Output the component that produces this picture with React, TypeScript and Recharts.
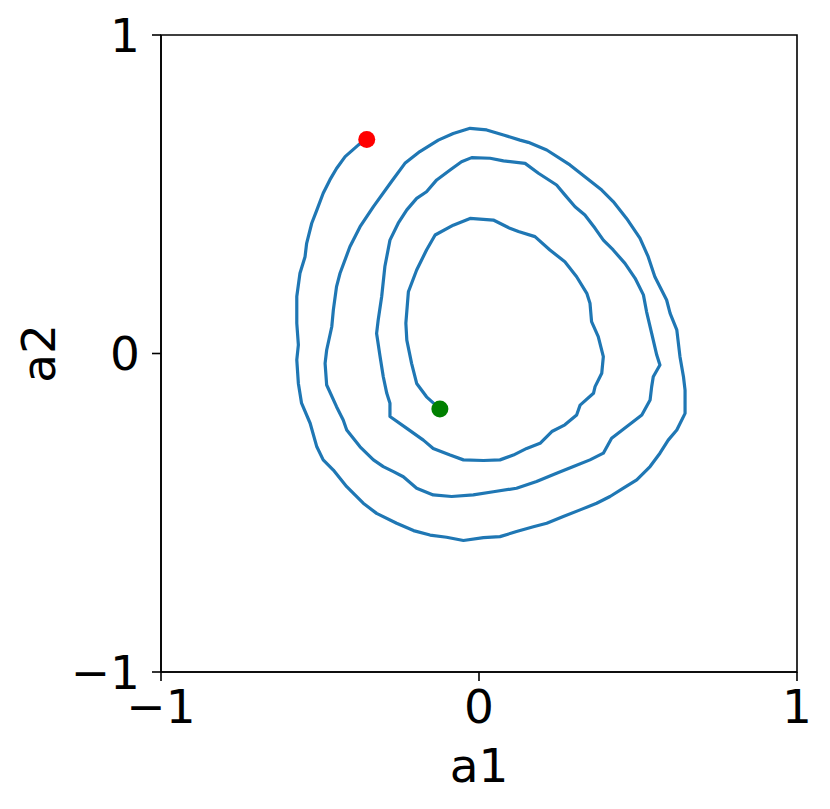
import { ComposedChart, Line, Scatter, XAxis, YAxis, ReferenceArea, Label } from 'recharts';

// trajectory in (a1, a2), from the green start point spiralling out to the red end point
const a1Values = [
  -0.123, -0.165, -0.196, -0.212, -0.227, -0.23, -0.222, -0.196, -0.165, -0.138,
  -0.081, -0.028, 0.045, 0.097, 0.124, 0.176, 0.223, 0.27, 0.307, 0.339,
  0.349, 0.354, 0.375, 0.391, 0.386, 0.365, 0.36, 0.318, 0.307, 0.27,
  0.229, 0.192, 0.15, 0.108, 0.066, 0.014, -0.049, -0.091, -0.144, -0.175,
  -0.227, -0.28, -0.28, -0.29, -0.301, -0.311, -0.322, -0.317, -0.306, -0.296,
  -0.28, -0.254, -0.227, -0.196, -0.165, -0.133, -0.091, -0.055, -0.023, 0.035,
  0.077, 0.145, 0.187, 0.244, 0.27, 0.302, 0.333, 0.365, 0.391, 0.422,
  0.459, 0.491, 0.517, 0.527, 0.543, 0.559, 0.569, 0.548, 0.543, 0.538,
  0.512, 0.464, 0.417, 0.391, 0.349, 0.297, 0.244, 0.181, 0.118, 0.045,
  -0.018, -0.086, -0.144, -0.196, -0.238, -0.269, -0.301, -0.332, -0.374, -0.416,
  -0.427, -0.448, -0.479, -0.484, -0.479, -0.463, -0.458, -0.448, -0.437, -0.406,
  -0.374, -0.332, -0.275, -0.233, -0.186, -0.128, -0.081, -0.028, 0.024, 0.077,
  0.129, 0.155, 0.213, 0.286, 0.339, 0.386, 0.422, 0.464, 0.506, 0.532,
  0.553, 0.59, 0.601, 0.622, 0.632, 0.643, 0.648, 0.648, 0.622, 0.595,
  0.569, 0.538, 0.496, 0.454, 0.412, 0.37, 0.318, 0.265, 0.213, 0.171,
  0.118, 0.066, 0.014, -0.049, -0.102, -0.154, -0.206, -0.259, -0.322, -0.364,
  -0.416, -0.458, -0.49, -0.51, -0.531, -0.558, -0.568, -0.573, -0.568, -0.573,
  -0.573, -0.563, -0.547, -0.542, -0.526, -0.51, -0.49, -0.469, -0.448, -0.421,
  -0.379, -0.353,
];

const a2Values = [
  -0.174, -0.136, -0.094, -0.031, 0.042, 0.095, 0.194, 0.262, 0.325, 0.372,
  0.403, 0.424, 0.419, 0.393, 0.383, 0.367, 0.325, 0.288, 0.241, 0.189,
  0.158, 0.1, 0.053, -0.01, -0.062, -0.104, -0.125, -0.162, -0.193, -0.224,
  -0.245, -0.282, -0.298, -0.319, -0.334, -0.336, -0.334, -0.319, -0.298, -0.272,
  -0.235, -0.198, -0.156, -0.125, -0.073, -0.01, 0.063, 0.105, 0.179, 0.273,
  0.356, 0.409, 0.451, 0.487, 0.508, 0.545, 0.576, 0.602, 0.615, 0.613,
  0.605, 0.597, 0.566, 0.529, 0.498, 0.461, 0.435, 0.393, 0.356, 0.325,
  0.283, 0.236, 0.184, 0.131, 0.063, -0.005, -0.036, -0.073, -0.104, -0.146,
  -0.193, -0.23, -0.266, -0.313, -0.334, -0.355, -0.376, -0.402, -0.423, -0.434,
  -0.444, -0.449, -0.444, -0.423, -0.387, -0.371, -0.355, -0.334, -0.293, -0.24,
  -0.209, -0.167, -0.099, -0.031, 0.011, 0.084, 0.137, 0.21, 0.252, 0.335,
  0.398, 0.461, 0.54, 0.597, 0.634, 0.67, 0.691, 0.707, 0.702, 0.686,
  0.67, 0.663, 0.639, 0.592, 0.55, 0.513, 0.477, 0.424, 0.362, 0.304,
  0.241, 0.168, 0.126, 0.074, -0.01, -0.073, -0.115, -0.188, -0.24, -0.272,
  -0.313, -0.355, -0.397, -0.423, -0.449, -0.47, -0.491, -0.512, -0.533, -0.544,
  -0.559, -0.575, -0.578, -0.587, -0.577, -0.57, -0.556, -0.533, -0.502, -0.47,
  -0.418, -0.366, -0.334, -0.293, -0.219, -0.156, -0.094, -0.02, 0.027, 0.095,
  0.179, 0.252, 0.304, 0.346, 0.409, 0.45, 0.503, 0.545, 0.581, 0.618,
  0.655, 0.672,
];

const startPoint = { a1: -0.123, a2: -0.174 };
const endPoint = { a1: -0.353, a2: 0.672 };

const axisTicks = [-1, 0, 1];

const trajectory = a1Values.map((a1, i) => ({ a1, a2: a2Values[i] }));

const font = 'DejaVu Sans';
const tickStyle = { fontSize: 47, fontFamily: font, fill: '#000' };
const fmt = (v: number) => (v < 0 ? `\u2212${Math.abs(v)}` : `${v}`);

const dot = (color: string) => (props: any) => (
  <circle cx={props.cx} cy={props.cy} r={8.5} fill={color} />
);

export default function App() {
  return (
    <div style={{ position: 'absolute', left: 0, top: 0, background: '#fff' }}>
      <ComposedChart
        width={830}
        height={809}
        margin={{ top: 35, right: 33, bottom: 0, left: 0 }}
      >
        <XAxis
          type="number"
          dataKey="a1"
          domain={[-1, 1]}
          ticks={axisTicks}
          allowDataOverflow
          height={137}
          tickSize={9}
          tickMargin={9}
          tick={tickStyle}
          tickFormatter={fmt}
          stroke="#000"
          strokeWidth={1.6}
        >
          <Label
            content={(p: any) => (
              <text
                x={p.viewBox.x + p.viewBox.width / 2}
                y={782}
                textAnchor="middle"
                fontSize={47}
                fontFamily={font}
                fill="#000"
              >
                a1
              </text>
            )}
          />
        </XAxis>
        <YAxis
          type="number"
          dataKey="a2"
          domain={[-1, 1]}
          ticks={axisTicks}
          allowDataOverflow
          width={161}
          tickSize={9}
          tickMargin={12}
          tick={tickStyle}
          tickFormatter={fmt}
          stroke="#000"
          strokeWidth={1.6}
        >
          <Label
            content={(p: any) => {
              const cy = p.viewBox.y + p.viewBox.height / 2;
              return (
                <text
                  x={55}
                  y={cy}
                  transform={`rotate(-90, 55, ${cy})`}
                  textAnchor="middle"
                  fontSize={47}
                  fontFamily={font}
                  fill="#000"
                >
                  a2
                </text>
              );
            }}
          />
        </YAxis>
        <ReferenceArea
          x1={-1}
          x2={1}
          y1={-1}
          y2={1}
          fill="none"
          stroke="#000"
          strokeWidth={1.6}
          ifOverflow="visible"
        />
        <Line
          data={trajectory}
          dataKey="a2"
          type="linear"
          stroke="#1f77b4"
          strokeWidth={3.2}
          strokeLinejoin="round"
          strokeLinecap="round"
          dot={false}
          activeDot={false}
          isAnimationActive={false}
        />
        <Scatter data={[endPoint]} dataKey="a2" shape={dot('#ff0000')} isAnimationActive={false} />
        <Scatter data={[startPoint]} dataKey="a2" shape={dot('#008000')} isAnimationActive={false} />
      </ComposedChart>
    </div>
  );
}
